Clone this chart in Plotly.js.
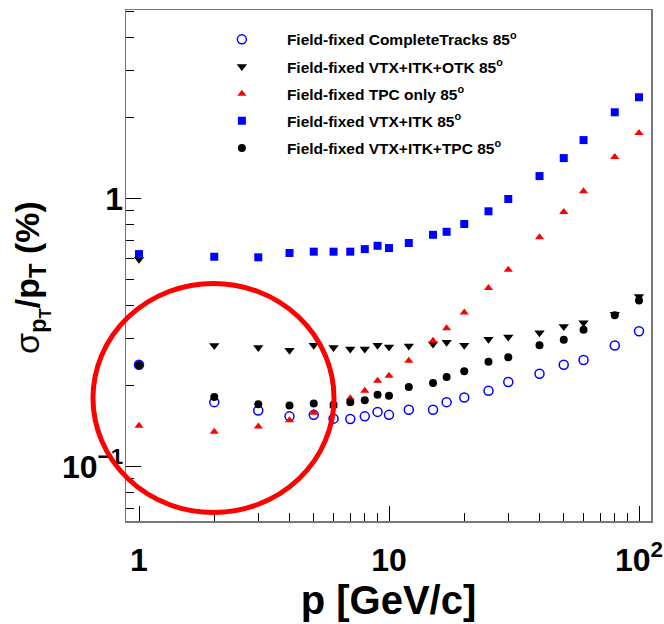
<!DOCTYPE html>
<html>
<head>
<meta charset="utf-8">
<script src="https://cdn.plot.ly/plotly-3.0.1.min.js"></script>
<style>html,body{margin:0;padding:0;background:#fff;}#chart{width:664px;height:624px;}</style>
</head>
<body>
<div id="chart"></div>
<script>
const momentum = [1, 2, 3, 4, 5, 6, 7, 8, 9, 10, 12, 15, 17, 20, 25, 30, 40, 50, 60, 80, 100];

const completeTracks = [0.240, 0.174, 0.162, 0.154, 0.156, 0.151, 0.1505, 0.154, 0.160, 0.156, 0.163, 0.163, 0.174, 0.181, 0.192, 0.207, 0.222, 0.240, 0.250, 0.283, 0.320];
const vtxItkOtk = [0.594, 0.283, 0.278, 0.272, 0.284, 0.278, 0.275, 0.275, 0.284, 0.2795, 0.282, 0.287, 0.291, 0.284, 0.299, 0.3045, 0.316, 0.333, 0.344, 0.370, 0.431];
const tpcOnly = [0.142, 0.135, 0.141, 0.149, 0.159, 0.168, 0.180, 0.192, 0.209, 0.2185, 0.2485, 0.295, 0.328, 0.376, 0.464, 0.543, 0.717, 0.891, 1.065, 1.43, 1.757];
const vtxItk = [0.621, 0.607, 0.604, 0.627, 0.634, 0.634, 0.634, 0.648, 0.667, 0.654, 0.683, 0.733, 0.752, 0.804, 0.897, 0.997, 1.214, 1.417, 1.654, 2.10, 2.39];
const vtxItkTpc = [0.2395, 0.182, 0.171, 0.169, 0.172, 0.170, 0.174, 0.177, 0.1855, 0.184, 0.198, 0.205, 0.216, 0.227, 0.246, 0.256, 0.284, 0.2975, 0.324, 0.367, 0.417];

const seriesNames = [
  'Field-fixed CompleteTracks 85<sup>o</sup>',
  'Field-fixed VTX+ITK+OTK 85<sup>o</sup>',
  'Field-fixed TPC only 85<sup>o</sup>',
  'Field-fixed VTX+ITK 85<sup>o</sup>',
  'Field-fixed VTX+ITK+TPC 85<sup>o</sup>'
];

const xTickVals = [1, 10, 100];
const xTickText = ['1', '10', '10<sup>2</sup>'];
const xMinorVals = [2, 3, 4, 5, 6, 7, 8, 9, 20, 30, 40, 50, 60, 70, 80, 90];
const yTickVals = [0.1, 1];
const yTickText = ['10<sup>\u22121</sup>', '1'];
const yMinorVals = [0.07, 0.08, 0.09, 0.2, 0.3, 0.4, 0.5, 0.6, 0.7, 0.8, 0.9, 2, 3, 4, 5];
const yTitle = 'σ<sub><b>p<sub>T</sub></b></sub><b>/p<sub>T</sub> (%)</b>';
const xTitle = '<b>p [GeV/c]</b>';

const styles = [
  {symbol: 'circle-open', color: '#0000ff', size: 9, line: {width: 1.5, color: '#0000ff'}},
  {symbol: 'triangle-down', color: '#000000', size: 9},
  {symbol: 'triangle-up', color: '#ff0000', size: 8},
  {symbol: 'square', color: '#0000ff', size: 8},
  {symbol: 'circle', color: '#000000', size: 8}
];
const allSeries = [completeTracks, vtxItkOtk, tpcOnly, vtxItk, vtxItkTpc];

const traces = allSeries.map((ys, i) => ({
  x: momentum,
  y: ys,
  type: 'scatter',
  mode: 'markers',
  name: seriesNames[i],
  legendgroup: 'g' + i,
  marker: styles[i],
  cliponaxis: false
}));

const FONT = 'Liberation Sans, Arial, Helvetica, sans-serif';

const layout = {
  width: 664,
  height: 624,
  margin: {l: 126, r: 13, t: 10, b: 103},
  paper_bgcolor: '#ffffff',
  plot_bgcolor: '#ffffff',
  showlegend: true,
  legend: {
    x: 0.135, y: 0.975, xanchor: 'left', yanchor: 'top',
    bgcolor: 'rgba(0,0,0,0)',
    font: {family: FONT, size: 15.5, color: '#000', weight: 'bold'},
    itemwidth: 80,
    tracegroupgap: 4,
    traceorder: 'grouped'
  },
  xaxis: {
    type: 'log',
    range: [-0.052, 2.048],
    tickvals: xTickVals,
    ticktext: xTickText,
    ticks: 'inside',
    ticklen: 15,
    tickwidth: 1,
    tickcolor: '#000',
    minor: {tickvals: xMinorVals, ticks: 'inside', ticklen: 8, tickcolor: '#000', tickwidth: 1, showgrid: false},
    showgrid: false,
    zeroline: false,
    showline: true,
    linecolor: '#777',
    linewidth: 1.5,
    mirror: true,
    ticklabelstandoff: 10,
    tickfont: {family: FONT, size: 32, color: '#000', weight: 'bold'},
    title: {text: xTitle, font: {family: FONT, size: 40, color: '#000'}, standoff: 6}
  },
  yaxis: {
    type: 'log',
    range: [-1.203, 0.704],
    tickvals: yTickVals,
    ticktext: yTickText,
    ticks: 'inside',
    ticklen: 15,
    tickwidth: 1,
    tickcolor: '#000',
    minor: {tickvals: yMinorVals, ticks: 'inside', ticklen: 8, tickcolor: '#000', tickwidth: 1, showgrid: false},
    showgrid: false,
    zeroline: false,
    showline: true,
    linecolor: '#777',
    linewidth: 1.5,
    mirror: true,
    ticklabelstandoff: -5,
    tickfont: {family: FONT, size: 32, color: '#000', weight: 'bold'}
  },
  annotations: [{
    text: yTitle,
    xref: 'paper', yref: 'paper',
    x: -0.18, y: 0.5,
    xanchor: 'center', yanchor: 'middle',
    yshift: -12,
    textangle: -90,
    showarrow: false,
    font: {family: FONT, size: 34, color: '#000'}
  }],
  shapes: [{
    type: 'circle',
    xref: 'paper', yref: 'paper',
    x0: -0.0629, x1: 0.3962, y0: 0.0166, y1: 0.4648,
    line: {color: '#ff0000', width: 5},
    fillcolor: 'rgba(0,0,0,0)',
    layer: 'above'
  }]
};

Plotly.newPlot('chart', traces, layout, {displayModeBar: false, staticPlot: true});
</script>
</body>
</html>
